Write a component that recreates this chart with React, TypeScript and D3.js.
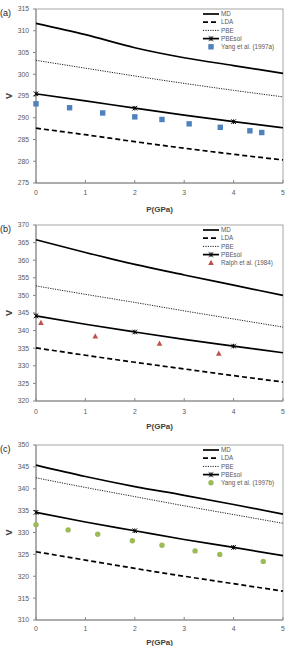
import React from "react";
import * as d3 from "d3";

// ---------- data ----------
const P_GRID = [0, 1, 2, 3, 4, 5];
const X_TICKS = [0, 1, 2, 3, 4, 5];
const PBESOL_MARK_IDX = [0, 2, 4];
const SERIES_NAMES = ["MD", "LDA", "PBE", "PBEsol"];

// Panel (a)
const MD_A = [311.7, 309.1, 306.1, 303.8, 302.0, 300.2];
const LDA_A = [287.6, 286.1, 284.5, 283.0, 281.6, 280.3];
const PBE_A = [303.2, 301.4, 299.6, 297.9, 296.3, 294.8];
const PBESOL_A = [295.5, 293.9, 292.2, 290.6, 289.1, 287.7];
const EXP_A_P = [0, 0.68, 1.35, 2.0, 2.55, 3.1, 3.73, 4.33, 4.57];
const EXP_A_V = [293.2, 292.3, 291.1, 290.2, 289.6, 288.6, 287.8, 287.0, 286.6];
const Y_TICKS_A = [275, 280, 285, 290, 295, 300, 305, 310, 315];

// Panel (b)
const MD_B = [365.8, 362.2, 358.8, 355.8, 352.9, 350.0];
const LDA_B = [335.1, 333.0, 331.0, 329.1, 327.2, 325.4];
const PBE_B = [352.7, 350.3, 348.0, 345.6, 343.3, 341.0];
const PBESOL_B = [344.2, 341.8, 339.6, 337.5, 335.6, 333.7];
const EXP_B_P = [0.1, 1.2, 2.5, 3.7];
const EXP_B_V = [342.2, 338.4, 336.3, 333.5];
const Y_TICKS_B = [320, 325, 330, 335, 340, 345, 350, 355, 360, 365, 370];

// Panel (c)
const MD_C = [345.4, 342.8, 340.5, 338.5, 336.4, 334.2];
const LDA_C = [325.6, 323.7, 321.8, 320.0, 318.3, 316.6];
const PBE_C = [342.5, 340.3, 338.2, 336.1, 334.1, 332.1];
const PBESOL_C = [334.6, 332.4, 330.4, 328.4, 326.6, 324.7];
const EXP_C_P = [0, 0.65, 1.25, 1.95, 2.55, 3.22, 3.72, 4.6];
const EXP_C_V = [331.8, 330.6, 329.6, 328.1, 327.1, 325.8, 325.0, 323.4];
const Y_TICKS_C = [310, 315, 320, 325, 330, 335, 340, 345, 350];

const EXP_LABELS = ["Yang et al. (1997a)", "Ralph et al. (1984)", "Yang et al. (1997b)"];
const PANEL_LABELS = ["(a)", "(b)", "(c)"];

// ---------- layout ----------
const W = 286;
const H = 646;
const X0 = 36;
const X1 = 283;
const FONT = "'Liberation Sans', Arial, sans-serif";
const TICK_COLOR = "#595959";

type Panel = {
  label: string;
  top: number;
  bottom: number;
  yTicks: number[];
  md: number[];
  lda: number[];
  pbe: number[];
  pbesol: number[];
  expP: number[];
  expV: number[];
  expLabel: string;
  marker: "square" | "triangle" | "circle";
  color: string;
  titleOff: number;
  tickOff: number;
};

const PANELS: Panel[] = [
  { label: PANEL_LABELS[0], top: 9, bottom: 183, yTicks: Y_TICKS_A, md: MD_A, lda: LDA_A, pbe: PBE_A, pbesol: PBESOL_A, expP: EXP_A_P, expV: EXP_A_V, expLabel: EXP_LABELS[0], marker: "square", color: "#4F81BD", titleOff: 26, tickOff: 12 },
  { label: PANEL_LABELS[1], top: 225, bottom: 401, yTicks: Y_TICKS_B, md: MD_B, lda: LDA_B, pbe: PBE_B, pbesol: PBESOL_B, expP: EXP_B_P, expV: EXP_B_V, expLabel: EXP_LABELS[1], marker: "triangle", color: "#C0504D", titleOff: 25, tickOff: 13 },
  { label: PANEL_LABELS[2], top: 445, bottom: 620, yTicks: Y_TICKS_C, md: MD_C, lda: LDA_C, pbe: PBE_C, pbesol: PBESOL_C, expP: EXP_C_P, expV: EXP_C_V, expLabel: EXP_LABELS[2], marker: "circle", color: "#9BBB59", titleOff: 22, tickOff: 11 },
];

function StarMarker({ x, y }: { x: number; y: number }) {
  const s = 2.3;
  return (
    <g stroke="#000" strokeWidth={1}>
      <line x1={x - s} y1={y - s} x2={x + s} y2={y + s} />
      <line x1={x - s} y1={y + s} x2={x + s} y2={y - s} />
      <line x1={x} y1={y - s} x2={x} y2={y + s} />
    </g>
  );
}

function ExpMarker({ x, y, kind, color }: { x: number; y: number; kind: string; color: string }) {
  if (kind === "square") return <rect x={x - 2.7} y={y - 2.7} width={5.4} height={5.4} fill={color} />;
  if (kind === "triangle") {
    const p = d3.path();
    p.moveTo(x, y - 3);
    p.lineTo(x + 2.8, y + 2.2);
    p.lineTo(x - 2.8, y + 2.2);
    p.closePath();
    return <path d={p.toString()} fill={color} />;
  }
  return <circle cx={x} cy={y} r={2.7} fill={color} />;
}

function PanelChart({ pn }: { pn: Panel }) {
  const x = d3.scaleLinear().domain([0, 5]).range([X0, X1]);
  const yd = d3.extent(pn.yTicks) as [number, number];
  const y = d3.scaleLinear().domain(yd).range([pn.bottom, pn.top]);
  const line = d3
    .line<number>()
    .x((_, i) => x(P_GRID[i]))
    .y((v) => y(v))
    .curve(d3.curveMonotoneX);

  const styles = [
    { data: pn.md, dash: undefined, w: 1.7, color: "#000" },
    { data: pn.lda, dash: "5,3", w: 1.7, color: "#000" },
    { data: pn.pbe, dash: "1.2,1.2", w: 1, color: "#222" },
    { data: pn.pbesol, dash: undefined, w: 1.7, color: "#000" },
  ];

  const midX = (X0 + X1) / 2;
  const midY = (pn.top + pn.bottom) / 2;
  const legX0 = 203;
  const legX1 = 219;
  const legY = (i: number) => pn.top + 5 + i * 8.2;

  return (
    <g>
      <rect x={X0} y={pn.top} width={X1 - X0} height={pn.bottom - pn.top} fill="none" stroke="#a6a6a6" strokeWidth={1} />
      <line x1={X0} y1={pn.top} x2={X0} y2={pn.bottom} stroke="#868686" strokeWidth={1} />
      <line x1={X0} y1={pn.bottom} x2={X1} y2={pn.bottom} stroke="#868686" strokeWidth={1} />
      {pn.yTicks.map((t) => (
        <g key={"y" + t}>
          <line x1={X0 - 3} x2={X0} y1={y(t)} y2={y(t)} stroke="#868686" />
          <text x={29} y={y(t)} dy="0.35em" textAnchor="end" fontSize={6.8} fill={TICK_COLOR} fontFamily={FONT}>
            {t}
          </text>
        </g>
      ))}
      {X_TICKS.map((t) => (
        <g key={"x" + t}>
          <line x1={x(t)} x2={x(t)} y1={pn.bottom} y2={pn.bottom - 3} stroke="#868686" />
          <text x={x(t)} y={pn.bottom + pn.tickOff} textAnchor="middle" fontSize={6.8} fill={TICK_COLOR} fontFamily={FONT}>
            {t}
          </text>
        </g>
      ))}
      <text x={midX} y={pn.bottom + pn.titleOff} dy="0.35em" textAnchor="middle" fontSize={8} fontWeight="bold" fill="#404040" fontFamily={FONT}>
        P(GPa)
      </text>
      <text transform={`translate(9,${midY}) rotate(-90)`} dy="0.35em" textAnchor="middle" fontSize={9} fontWeight="bold" fill="#404040" fontFamily={FONT}>
        V
      </text>
      <text x={0} y={pn.top + 4} dy="0.35em" fontSize={9} fill="#222" fontFamily={FONT}>
        {pn.label}
      </text>
      {styles.map((s, i) => (
        <path key={"l" + i} d={line(s.data) || ""} fill="none" stroke={s.color} strokeWidth={s.w} strokeDasharray={s.dash} />
      ))}
      {PBESOL_MARK_IDX.map((i) => (
        <StarMarker key={"m" + i} x={x(P_GRID[i])} y={y(pn.pbesol[i])} />
      ))}
      {pn.expP.map((p, i) => (
        <ExpMarker key={"e" + i} x={x(p)} y={y(pn.expV[i])} kind={pn.marker} color={pn.color} />
      ))}
      {styles.map((s, i) => (
        <g key={"lg" + i}>
          <line x1={legX0} x2={legX1} y1={legY(i)} y2={legY(i)} stroke={s.color} strokeWidth={s.w} strokeDasharray={s.dash} />
          {i === 3 && <StarMarker x={(legX0 + legX1) / 2} y={legY(i)} />}
          <text x={legX1 + 2} y={legY(i)} dy="0.35em" fontSize={6.3} fill={TICK_COLOR} fontFamily={FONT}>
            {SERIES_NAMES[i]}
          </text>
        </g>
      ))}
      <ExpMarker x={(legX0 + legX1) / 2} y={legY(4)} kind={pn.marker} color={pn.color} />
      <text x={legX1 + 2} y={legY(4)} dy="0.35em" fontSize={6.3} fill={TICK_COLOR} fontFamily={FONT}>
        {pn.expLabel}
      </text>
    </g>
  );
}

export default function App() {
  return (
    <svg width={W} height={H} style={{ position: "absolute", left: 0, top: 0, background: "#fff" }}>
      <rect width={W} height={H} fill="#fff" />
      {PANELS.map((pn) => (
        <PanelChart key={pn.label} pn={pn} />
      ))}
    </svg>
  );
}
